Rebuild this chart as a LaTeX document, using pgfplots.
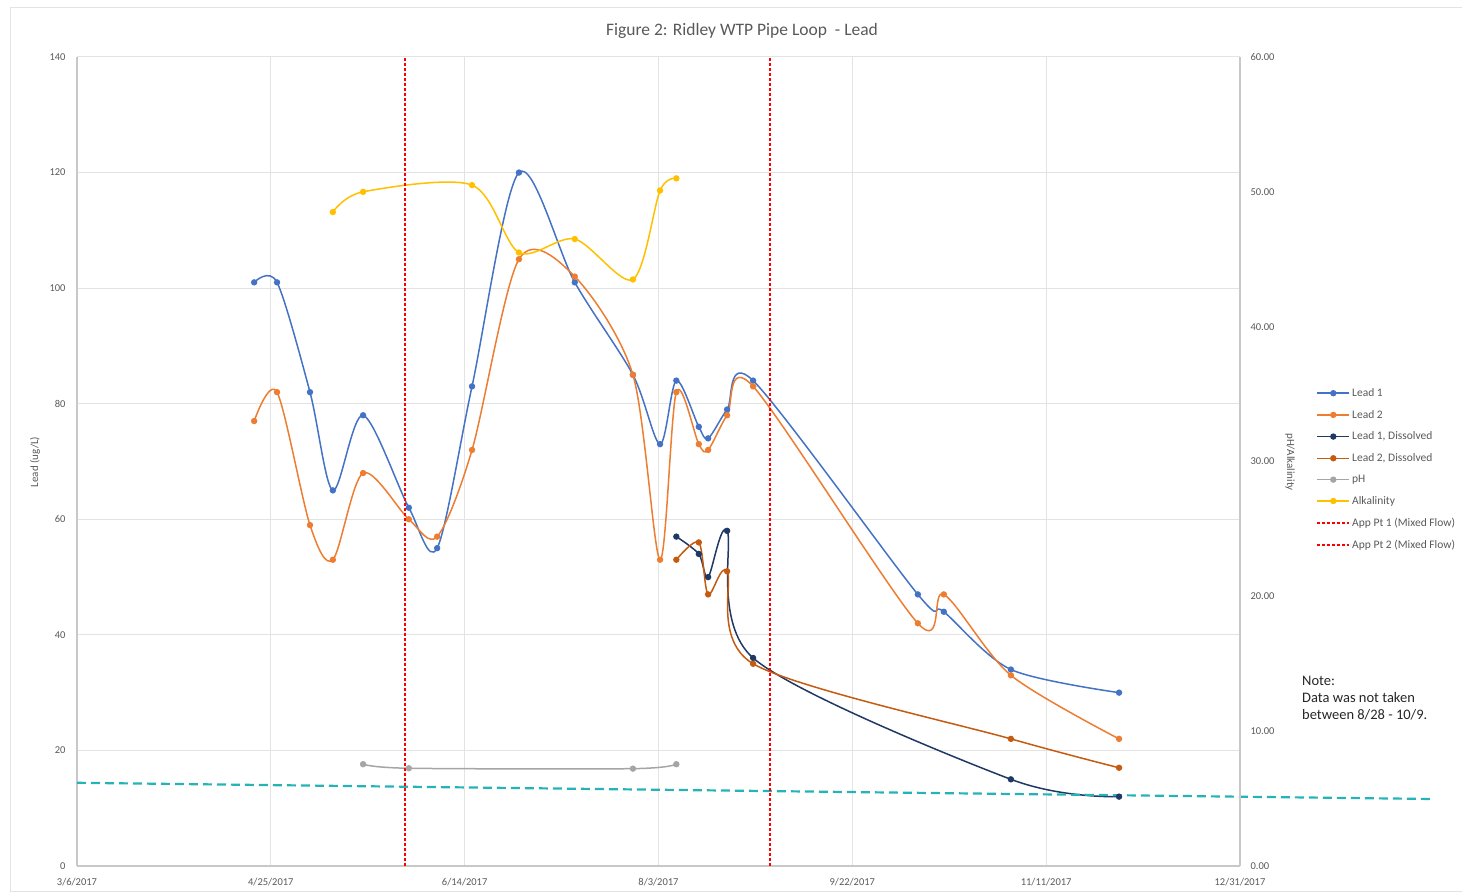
\documentclass[border=0pt]{standalone}
\usepackage{pgfplots}
\pgfplotsset{compat=1.18}
\usepackage{fontspec}
\setmainfont{Carlito}
\definecolor{leadone}{HTML}{4472C4}
\definecolor{leadtwo}{HTML}{ED7D31}
\definecolor{leadoned}{HTML}{203864}
\definecolor{leadtwod}{HTML}{C55A11}
\definecolor{phc}{HTML}{A5A5A5}
\definecolor{alkc}{HTML}{FFC000}
\definecolor{redl}{HTML}{FF0000}
\definecolor{tealc}{HTML}{26B3B8}
\definecolor{txt}{HTML}{595959}
\definecolor{gridc}{HTML}{E3E3E3}
\definecolor{axc}{HTML}{C8C8C8}
\pgfplotsset{
  common/.style={
    at={(77pt,26pt)}, anchor=south west, scale only axis,
    width=1163pt, height=809pt,
    xmin=0, xmax=300,
    major tick length=0pt,
    axis line style={-, draw=axc, line width=1.5pt},
    tick label style={font=\fontsize{10.5}{12}\selectfont, text=txt},
    /pgf/number format/assume math mode=true,
    legend image code/.code={\draw[mark repeat=2,mark phase=2] plot coordinates {(0pt,0pt) (16pt,0pt) (32pt,0pt)};},
  },
  ser/.style={#1, line width=1.5pt, mark=*, mark size=2.4pt, mark options={fill=#1, draw=#1}, smooth},
}
\pgfplotstableread{
x y
45.7 101
51.6 101
60.1 82
66.0 65
73.8 78
85.6 62
92.9 55
101.9 83
114.0 120
128.4 101
143.4 85
150.4 73
154.6 84
160.4 76
162.8 74
167.7 79
174.4 84
216.9 47
223.6 44
240.9 34
268.8 30
}\leadone
\pgfplotstableread{
x y
45.7 77
51.6 82
60.1 59
66.0 53
73.8 68
85.6 60
92.9 57
101.9 72
114.0 105
128.4 102
143.4 85
150.4 53
154.6 82
160.4 73
162.8 72
167.7 78
174.4 83
216.9 42
223.6 47
240.9 33
268.8 22
}\leadtwo
\pgfplotstableread{
x y
154.6 57
160.4 54
162.8 50
167.7 58
174.4 36
240.9 15
268.8 12
}\leadoned
\pgfplotstableread{
x y
154.6 53
160.4 56
162.8 47
167.7 51
174.4 35
240.9 22
268.8 17
}\leadtwod
\pgfplotstableread{
x y
73.8 7.55
85.6 7.25
143.4 7.22
154.6 7.55
}\phtab
\pgfplotstableread{
x y
66.0 48.5
73.8 50.0
101.9 50.5
114.0 45.5
128.4 46.5
143.4 43.5
150.4 50.1
154.6 51.0
}\alktab
\begin{document}
\begin{tikzpicture}[x=1pt,y=1pt]
\useasboundingbox (0,0) rectangle (1462,892);
\draw[draw=gridc, line width=1pt] (10,1) rectangle (1470,884);
\begin{axis}[common,
  ymin=0, ymax=140,
  axis x line*=bottom, axis y line*=left,
  xtick={0,50,...,300},
  xticklabels={3/6/2017,4/25/2017,6/14/2017,8/3/2017,9/22/2017,11/11/2017,12/31/2017},
  ytick={0,20,...,140},
  xmajorgrids, ymajorgrids,
  major grid style={draw=gridc, line width=1pt},
  clip=false,
  xticklabel style={yshift=-9pt},
  yticklabel style={xshift=-8pt},
]
\addplot[ser=leadone] table {\leadone};
\addplot[ser=leadtwo] table {\leadtwo};
\addplot[ser=leadoned] table {\leadoned};
\addplot[ser=leadtwod] table {\leadtwod};
\addplot[tealc, line width=2.2pt, dash pattern=on 9pt off 5pt] coordinates {(0,14.4) (349,11.6)};
\end{axis}
\begin{axis}[common,
  ymin=0, ymax=60,
  axis y line*=right, axis x line=none,
  ytick={0,10,...,60},
  yticklabel style={/pgf/number format/fixed, /pgf/number format/fixed zerofill, /pgf/number format/precision=2, xshift=7pt},
  legend style={at={(1.0655,0.593)}, anchor=north west, draw=none, fill=none,
    font=\fontsize{11.5}{13}\selectfont, text=txt, row sep=8.2pt, inner sep=0pt},
  legend cell align=left,
]
\addlegendimage{ser=leadone}
\addlegendentry{Lead 1}
\addlegendimage{ser=leadtwo}
\addlegendentry{Lead 2}
\addlegendimage{ser=leadoned}
\addlegendentry{Lead 1, Dissolved}
\addlegendimage{ser=leadtwod}
\addlegendentry{Lead 2, Dissolved}
\addplot[ser=phc] table {\phtab};
\addlegendentry{pH}
\addplot[ser=alkc] table {\alktab};
\addlegendentry{Alkalinity}
\addplot[redl, line width=1.8pt, dash pattern=on 3pt off 2pt] coordinates {(84.6,0) (84.6,60)};
\addlegendentry{App Pt 1 (Mixed Flow)}
\addplot[redl, line width=1.8pt, dash pattern=on 3pt off 2pt] coordinates {(178.7,0) (178.7,60)};
\addlegendentry{App Pt 2 (Mixed Flow)}
\end{axis}
\node[font=\fontsize{17.5}{20}\selectfont, text=txt] at (742,861) {Figure 2: Ridley WTP Pipe Loop\ \ - Lead};
\node[font=\fontsize{11}{12}\selectfont, text=txt, rotate=90] at (35,430) {Lead (ug/L)};
\node[font=\fontsize{11}{12}\selectfont, text=txt, rotate=-90] at (1290,430) {pH/Alkalinity};
\node[font=\fontsize{14.5}{17}\selectfont, align=left, anchor=north west, inner sep=0pt, text=black!85] at (1302,216) {Note:\\Data was not taken\\between 8/28 - 10/9.};
\end{tikzpicture}
\end{document}
